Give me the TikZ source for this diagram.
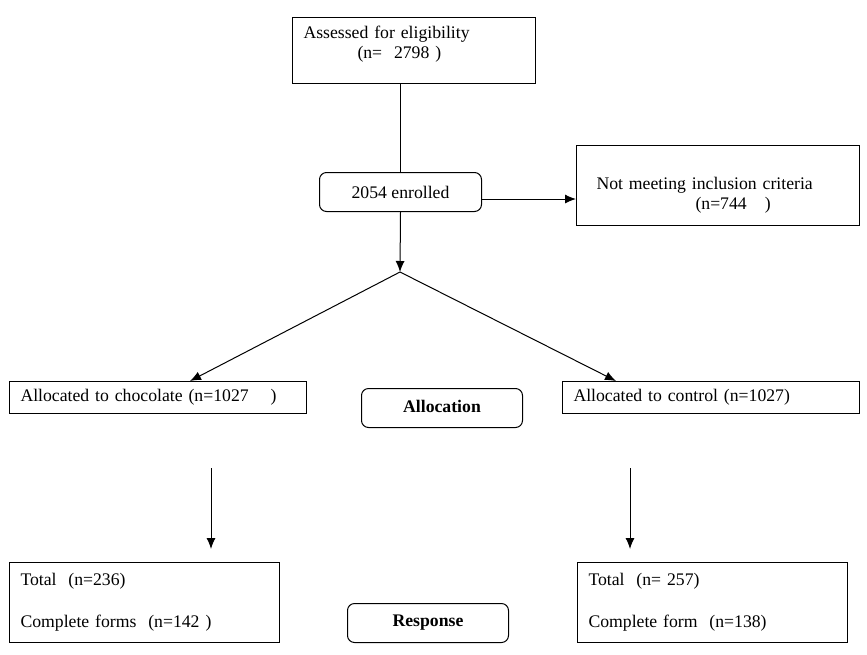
\documentclass[tikz,border=0pt]{standalone}
\usepackage{fontspec}
\setmainfont{Liberation Serif}
\usetikzlibrary{arrows.meta}

\begin{document}
\begin{tikzpicture}[x=1pt,y=-1pt,line width=1pt,>={Latex[length=11pt,width=9pt]},
    font=\fontsize{17.7}{22}\selectfont,
    box/.style={draw,rectangle,anchor=north west,align=left,inner ysep=0pt},
    roundbox/.style={draw,rectangle,rounded corners=7pt,anchor=north west,inner sep=0pt}]
    \useasboundingbox (0,0) rectangle (867,654);

    % top part
    \node[box,inner xsep=11pt,text width=221pt,minimum height=66pt](assess)at(292,17)
        {Assessed for eligibility\\[-2pt]\hspace*{54pt}(n=\ \ 2798 )\rule[-17pt]{0pt}{1pt}};
    \node[roundbox,minimum width=162pt,minimum height=39pt](enrol)at(319,172){2054 enrolled};
    \node[box,inner xsep=20pt,text width=243pt,minimum height=80pt](notmeet)at(576,145)
        {\rule{0pt}{32pt}Not meeting inclusion criteria\\[-2pt]\hspace*{99pt}(n=744\hspace*{18pt})};
    \coordinate(split)at(400,272);

    \draw(enrol|-assess.south)--(enrol.north);
    \draw[->](enrol.south)--(split);
    \draw[->]([yshift=-7pt]enrol.east)--([yshift=-7pt]enrol.east-|notmeet.west);

    % allocation
    \node[box,inner xsep=11pt,text width=275pt,minimum height=32pt](choc)at(9,381)
        {Allocated to chocolate (n=1027\hspace*{22pt})};
    \node[roundbox,minimum width=161pt,minimum height=39pt,font=\fontsize{17.7}{22}\selectfont\bfseries](alloc)at(361,388){\raisebox{3pt}{Allocation}};
    \node[box,inner xsep=11pt,text width=275pt,minimum height=32pt](control)at(562,381)
        {Allocated to control (n=1027)};

    \draw[->](split)--([xshift=32pt]choc.north);
    \draw[->](split)--([xshift=-95pt]control.north);

    % response
    \coordinate(chocfrom)at(211,468);
    \coordinate(chocto)at(211,549);
    \coordinate(controlfrom)at(630,468);
    \coordinate(controlto)at(630,549);
    \draw[->](chocfrom)--(chocto);
    \draw[->](controlfrom)--(controlto);

    \node[box,inner xsep=11pt,text width=248pt,minimum height=80pt](chocresp)at(9,562)
        {Total\ \ (n=236)\\[20pt]Complete forms\ \ (n=142 )};
    \node[roundbox,minimum width=161pt,minimum height=39pt,font=\fontsize{17.7}{22}\selectfont\bfseries](resp)at(347,603){Response};
    \node[box,inner xsep=11pt,text width=248pt,minimum height=80pt](controlresp)at(577,562)
        {Total\ \ (n= 257)\\[20pt]Complete form\ \ (n=138)};
\end{tikzpicture}
\end{document}
